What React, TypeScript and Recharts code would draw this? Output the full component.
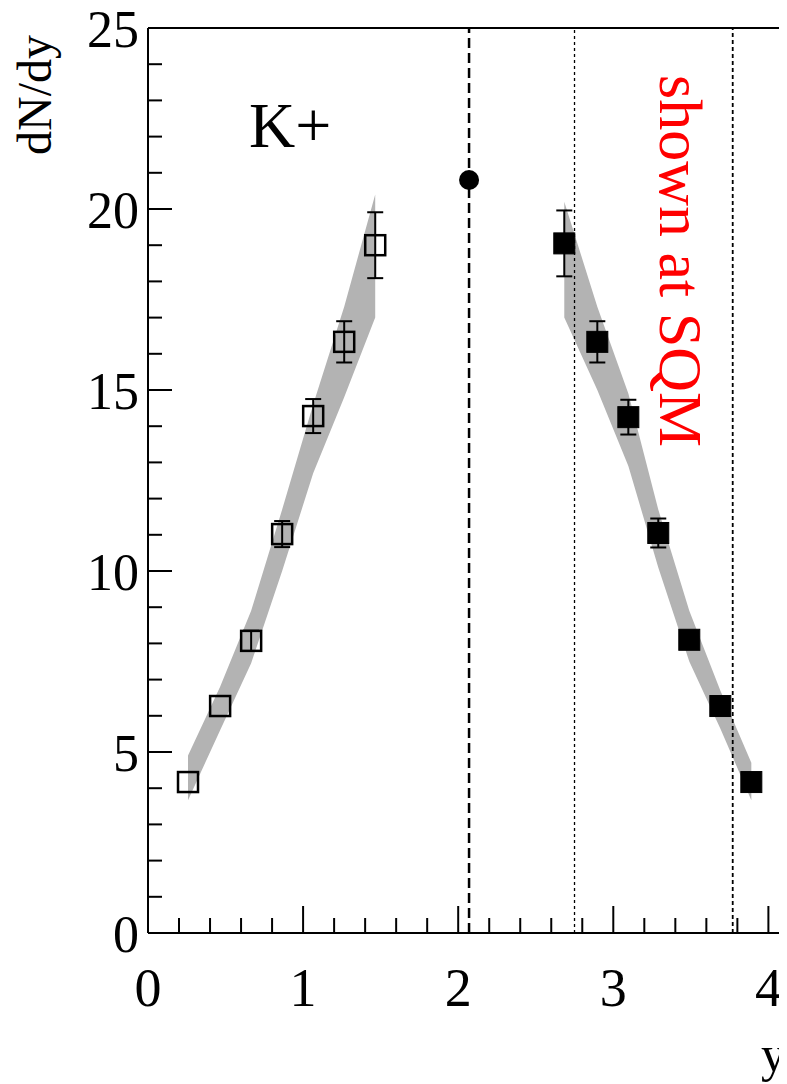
import React from 'react';
import {
  ComposedChart,
  Area,
  Scatter,
  ErrorBar,
  XAxis,
  YAxis,
  ReferenceLine
} from 'recharts';

const FONT = '"Liberation Serif", "DejaVu Serif", serif';

// measured K+ points (open squares), and the reflected ones (filled)
const rapOpen = [0.258, 0.465, 0.665, 0.865, 1.065, 1.265, 1.465];
const dndyOpen = [4.17, 6.27, 8.07, 11.02, 14.28, 16.33, 19.0];
const errOpen = [null, null, 0.28, 0.36, 0.47, 0.57, 0.91];

const rapFilled = [2.684, 2.897, 3.097, 3.29, 3.49, 3.69, 3.89];
const dndyFilled = [19.05, 16.33, 14.25, 11.05, 8.1, 6.27, 4.17];
const errFilled = [0.91, 0.57, 0.48, 0.4, 0.2, null, null];

// midrapidity point
const rapMid = [2.07];
const dndyMid = [20.8];

// grey systematic bands
const bandLowLeft = [3.67, 5.6, 7.45, 10.0, 12.7, 14.8, 17.0];
const bandHighLeft = [4.9, 6.8, 8.9, 11.7, 14.6, 17.3, 20.4];
const bandLowRight = [17.0, 15.0, 12.9, 10.1, 7.5, 5.65, 3.67];
const bandHighRight = [20.2, 17.3, 14.9, 11.7, 8.9, 6.7, 4.7];

// vertical guide lines: midrapidity (dashed) and SQM range (dotted)
const midLine = 2.07;
const sqmLines = [2.75, 3.77];

const xTicks = [0, 0.2, 0.4, 0.6, 0.8, 1, 1.2, 1.4, 1.6, 1.8, 2, 2.2, 2.4, 2.6, 2.8, 3, 3.2, 3.4, 3.6, 3.8, 4];
const yTicks = [0, 1, 2, 3, 4, 5, 6, 7, 8, 9, 10, 11, 12, 13, 14, 15, 16, 17, 18, 19, 20, 21, 22, 23, 24, 25];

const bandData = [
  ...rapOpen.map((r, i) => ({ rap: r, left: [bandLowLeft[i], bandHighLeft[i]] })),
  ...rapFilled.map((r, i) => ({ rap: r, right: [bandLowRight[i], bandHighRight[i]] })),
];
const openData = rapOpen.map((r, i) => ({ rap: r, val: dndyOpen[i], err: errOpen[i] }));
const filledData = rapFilled.map((r, i) => ({ rap: r, val: dndyFilled[i], err: errFilled[i] }));
const midData = rapMid.map((r, i) => ({ rap: r, val: dndyMid[i] }));

const XTick = (props: any) => {
  const { x, y, payload } = props;
  const v = payload.value;
  const major = Math.abs(v - Math.round(v)) < 1e-6;
  return (
    <g>
      <line x1={x} x2={x} y1={y} y2={y - (major ? 27 : 15)} stroke="#000" strokeWidth={2} />
      {major && (
        <text x={x} y={y + 73} textAnchor="middle" fontSize={54} fontFamily={FONT} fill="#000">
          {Math.round(v)}
        </text>
      )}
    </g>
  );
};

const YTick = (props: any) => {
  const { x, y, payload } = props;
  const v = payload.value;
  const major = v % 5 === 0;
  return (
    <g>
      <line x1={x} x2={x + (major ? 24 : 14)} y1={y} y2={y} stroke="#000" strokeWidth={2} />
      {major && (
        <text x={x - 9} y={y + 19} textAnchor="end" fontSize={52} fontFamily={FONT} fill="#000">
          {v}
        </text>
      )}
    </g>
  );
};

const openSquare = (p: any) => (
  <rect x={p.cx - 10} y={p.cy - 10} width={20} height={20} fill="none" stroke="#000" strokeWidth={2.5} />
);
const filledSquare = (p: any) => (
  <rect x={p.cx - 10.5} y={p.cy - 10.5} width={21} height={21} fill="#000" stroke="#000" strokeWidth={1} />
);
const dot = (p: any) => <circle cx={p.cx} cy={p.cy} r={10} fill="#000" />;

export default function App() {
  return (
    <div style={{ width: 779, height: 1076, overflow: 'hidden', background: '#fff' }}>
      <ComposedChart
        width={779}
        height={1076}
        data={bandData}
        margin={{ top: 20, right: 0, left: 40, bottom: 91 }}
      >
        <XAxis
          dataKey="rap"
          type="number"
          domain={[0, 4.12]}
          allowDataOverflow
          ticks={xTicks}
          interval={0}
          height={60}
          tickSize={0}
          tickMargin={0}
          tickLine={false}
          axisLine={{ stroke: '#000', strokeWidth: 2 }}
          tick={<XTick />}
        />
        <YAxis
          type="number"
          domain={[0, 25]}
          allowDataOverflow
          ticks={yTicks}
          interval={0}
          width={100}
          tickSize={0}
          tickMargin={0}
          tickLine={false}
          axisLine={{ stroke: '#000', strokeWidth: 2 }}
          tick={<YTick />}
        />
        <Area
          dataKey="left"
          type="linear"
          stroke="none"
          fill="#b3b3b3"
          fillOpacity={1}
          dot={false}
          activeDot={false}
          isAnimationActive={false}
        />
        <Area
          dataKey="right"
          type="linear"
          stroke="none"
          fill="#b3b3b3"
          fillOpacity={1}
          dot={false}
          activeDot={false}
          isAnimationActive={false}
        />
        <ReferenceLine y={25} stroke="#000" strokeWidth={2} />
        <ReferenceLine x={midLine} stroke="#000" strokeWidth={2.5} strokeDasharray="10 5" />
        <ReferenceLine x={sqmLines[0]} stroke="#000" strokeWidth={1.3} strokeDasharray="3 3" />
        <ReferenceLine x={sqmLines[1]} stroke="#000" strokeWidth={1.8} strokeDasharray="4 3" />
        <Scatter data={openData} dataKey="val" shape={openSquare} isAnimationActive={false}>
          <ErrorBar dataKey="err" direction="y" width={8} stroke="#000" strokeWidth={2} />
        </Scatter>
        <Scatter data={filledData} dataKey="val" shape={filledSquare} isAnimationActive={false}>
          <ErrorBar dataKey="err" direction="y" width={8} stroke="#000" strokeWidth={2} />
        </Scatter>
        <Scatter data={midData} dataKey="val" shape={dot} isAnimationActive={false} />
        <text x={241} y={139} fontSize={64} fontFamily={FONT} fill="#000">K+</text>
        <text
          x={43}
          y={87}
          transform="rotate(-90, 43, 87)"
          textAnchor="middle"
          fontSize={48}
          fontFamily={FONT}
          fill="#000"
        >
          dN/dy
        </text>
        <text x={778} y={1063} textAnchor="end" fontSize={50} fontFamily={FONT} fill="#000">y</text>
        <text
          x={652}
          y={67}
          transform="rotate(90, 652, 67)"
          fontSize={62}
          fontFamily={FONT}
          fill="#ff0000"
        >
          shown at SQM
        </text>
      </ComposedChart>
    </div>
  );
}
